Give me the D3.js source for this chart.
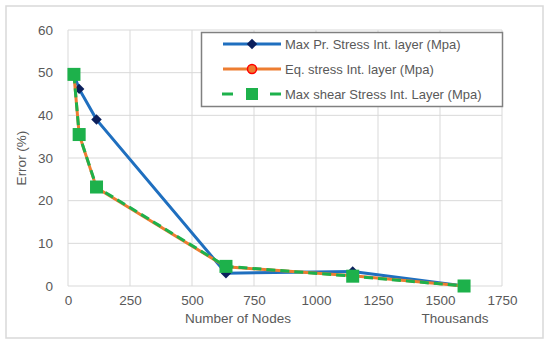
<!DOCTYPE html>
<html><head><meta charset="utf-8">
<script src="https://cdn.jsdelivr.net/npm/d3@7"></script>
<style>body{margin:0;background:#fff}svg{display:block}text{font-family:"Liberation Sans",Arial,sans-serif;fill:#595959}</style>
</head><body><svg id="c" width="550" height="346"></svg>
<script>
const nodes = [24, 45, 115, 637, 1148, 1597];
const maxPr = [49.5, 46.2, 39.0, 3.0, 3.4, 0];
const eqStress = [49.5, 35.5, 23.0, 4.5, 2.4, 0];
const maxShear = [49.6, 35.5, 23.2, 4.6, 2.3, 0];
const seriesNames = ["Max Pr. Stress Int. layer (Mpa)", "Eq. stress Int. layer (Mpa)", "Max shear Stress Int. Layer (Mpa)"];
const xTicks = [0, 250, 500, 750, 1000, 1250, 1500, 1750];
const yTicks = [0, 10, 20, 30, 40, 50, 60];

const svg = d3.select("#c");
svg.append("rect").attr("x",6).attr("y",6).attr("width",537).attr("height",332)
  .attr("fill","#fff").attr("stroke","#d9d9d9").attr("stroke-width",1.5);

const x = d3.scaleLinear().domain([0,1750]).range([68,502]);
const y = d3.scaleLinear().domain([0,60]).range([286,30]);

const grid = svg.append("g");
xTicks.forEach(t=>grid.append("line").attr("x1",x(t)).attr("x2",x(t)).attr("y1",y(0)).attr("y2",y(60)).attr("stroke","#d9d9d9").attr("stroke-width",1));
yTicks.forEach(t=>grid.append("line").attr("x1",x(0)).attr("x2",x(1750)).attr("y1",y(t)).attr("y2",y(t)).attr("stroke","#d9d9d9").attr("stroke-width",1));

const xa = svg.append("g").attr("transform",`translate(0,${y(0)})`)
  .call(d3.axisBottom(x).tickValues(xTicks).tickFormat(d3.format("d")).tickSize(0).tickPadding(9));
xa.select(".domain").remove();
xa.selectAll("text").style("font-size","13.5px").attr("fill","#595959");
const ya = svg.append("g").attr("transform",`translate(${x(0)},0)`)
  .call(d3.axisLeft(y).tickValues(yTicks).tickFormat(d3.format("d")).tickSize(0).tickPadding(15));
ya.select(".domain").remove();
ya.selectAll("text").style("font-size","13.5px").attr("fill","#595959");

svg.append("text").attr("x",238).attr("y",323).attr("text-anchor","middle").style("font-size","13.5px").text("Number of Nodes");
svg.append("text").attr("x",455).attr("y",323).attr("text-anchor","middle").style("font-size","13.5px").text("Thousands");
svg.append("text").attr("transform","translate(26,158) rotate(-90)").attr("text-anchor","middle").style("font-size","13.5px").text("Error (%)");

const line = d3.line().x(d=>x(d[0])).y(d=>y(d[1]));
const d1 = nodes.map((n,i)=>[n,maxPr[i]]);
const d2 = nodes.map((n,i)=>[n,eqStress[i]]);
const d3s = nodes.map((n,i)=>[n,maxShear[i]]);

const blue="#1F6FBF", navy="#0B1F5C", orange="#ED7D31", green="#1DB14B";
const diamond = d3.symbol().type(d3.symbolDiamond2).size(70);

svg.append("path").attr("d",line(d1)).attr("fill","none").attr("stroke",blue).attr("stroke-width",3);
svg.selectAll(".dm").data(d1).join("path").attr("class","dm").attr("d",diamond)
  .attr("transform",d=>`translate(${x(d[0])},${y(d[1])})`).attr("fill",navy);
svg.append("path").attr("d",line(d2)).attr("fill","none").attr("stroke",orange).attr("stroke-width",3);
svg.selectAll(".cm").data(d2).join("circle").attr("class","cm").attr("cx",d=>x(d[0])).attr("cy",d=>y(d[1])).attr("r",4.5)
  .attr("fill",orange).attr("stroke","#FF0000").attr("stroke-width",1.5);
svg.append("path").attr("d",line(d3s)).attr("fill","none").attr("stroke",green).attr("stroke-width",3).attr("stroke-dasharray","9,5");
svg.selectAll(".sm").data(d3s).join("rect").attr("class","sm").attr("x",d=>x(d[0])-6.5).attr("y",d=>y(d[1])-6.5)
  .attr("width",13).attr("height",13).attr("fill",green);

// legend
const lg = svg.append("g");
lg.append("rect").attr("x",201.5).attr("y",32.5).attr("width",301).attr("height",74).attr("fill","#fff").attr("stroke","#808080").attr("stroke-width",1.5);
const rows=[44,69,94];
lg.append("line").attr("x1",223).attr("x2",281).attr("y1",rows[0]).attr("y2",rows[0]).attr("stroke",blue).attr("stroke-width",3);
lg.append("path").attr("d",diamond).attr("transform",`translate(252,${rows[0]})`).attr("fill",navy);
lg.append("line").attr("x1",223).attr("x2",281).attr("y1",rows[1]).attr("y2",rows[1]).attr("stroke",orange).attr("stroke-width",3);
lg.append("circle").attr("cx",252).attr("cy",rows[1]).attr("r",4.5).attr("fill",orange).attr("stroke","#FF0000").attr("stroke-width",1.5);
lg.append("line").attr("x1",222).attr("x2",233).attr("y1",rows[2]).attr("y2",rows[2]).attr("stroke",green).attr("stroke-width",3);
lg.append("line").attr("x1",270).attr("x2",281).attr("y1",rows[2]).attr("y2",rows[2]).attr("stroke",green).attr("stroke-width",3);
lg.append("rect").attr("x",246).attr("y",rows[2]-6).attr("width",12).attr("height",12).attr("fill",green);
seriesNames.forEach((s,i)=>lg.append("text").attr("x",285).attr("y",rows[i]+4.5).style("font-size","13px").text(s));
</script></body></html>
